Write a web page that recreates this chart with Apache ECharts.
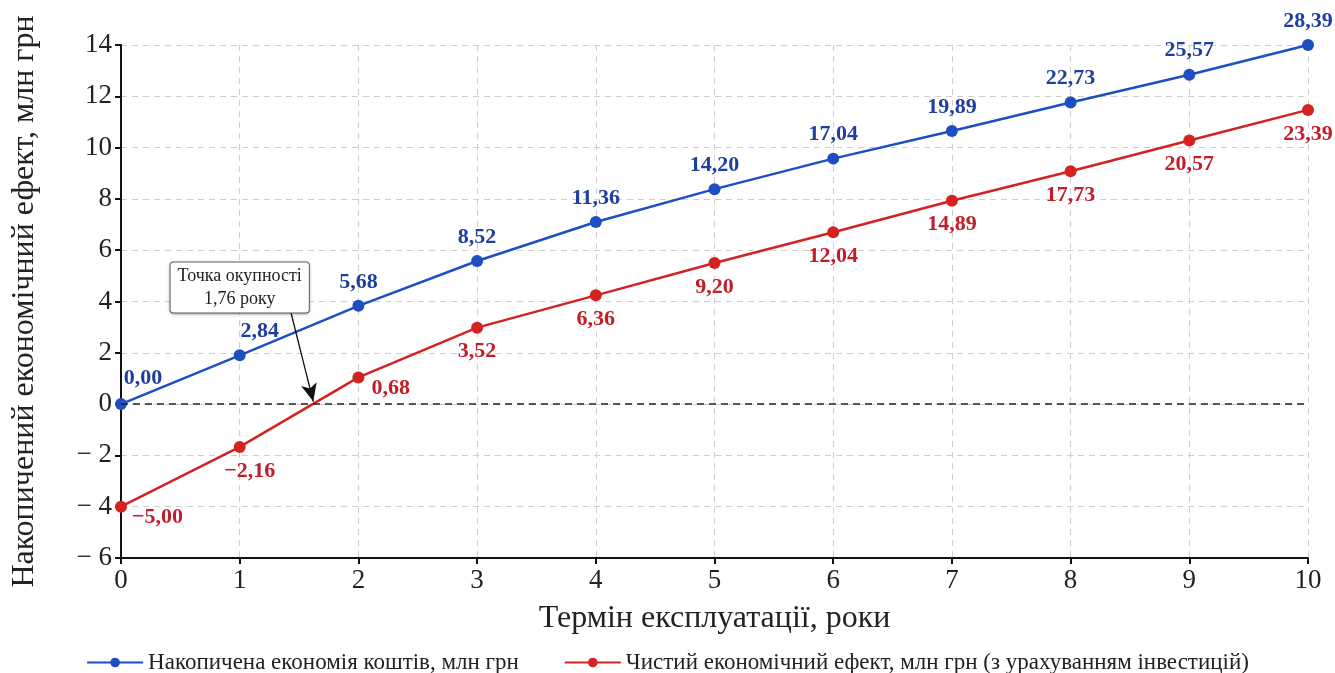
<!DOCTYPE html>
<html>
<head>
<meta charset="utf-8">
<script src="https://cdn.jsdelivr.net/npm/echarts@6/dist/echarts.min.js"></script>
<style>html,body{margin:0;padding:0;background:#fff}#c{width:1335px;height:673px}</style>
</head>
<body>
<div id="c"></div>
<script>
const years = [0,1,2,3,4,5,6,7,8,9,10];
const savingsPlot = [0, 1.9, 3.83, 5.58, 7.1, 8.38, 9.57, 10.65, 11.76, 12.84, 14.0];
const savingsLabels = ['0,00','2,84','5,68','8,52','11,36','14,20','17,04','19,89','22,73','25,57','28,39'];
const netPlot = [-4.0, -1.67, 1.04, 2.98, 4.24, 5.5, 6.7, 7.93, 9.08, 10.28, 11.47];
const netLabels = ['−5,00','−2,16','0,68','3,52','6,36','9,20','12,04','14,89','17,73','20,57','23,39'];
const seriesNames = ['Накопичена економія коштів, млн грн','Чистий економічний ефект, млн грн (з урахуванням інвестицій)'];
const annotationText = 'Точка окупності\n1,76 року';
const paybackX = 1.62;

const FONT = 'Liberation Serif';
const BLUE = '#1d4fc2', BLUE_T = '#1f3f9f';
const RED = '#d42222', RED_T = '#c21d28';

const blueData = years.map((x,i)=>{
  const d = {value:[x, savingsPlot[i]], label:{formatter: savingsLabels[i]}};
  if (i===0) d.label.offset = [22, -2];
  if (i===1) d.label.offset = [20, 0];
  return d;
});
const redData = years.map((x,i)=>{
  const d = {value:[x, netPlot[i]], label:{formatter: netLabels[i]}};
  if (i===0) { d.label.position = 'right'; d.label.distance = 5; d.label.offset = [0, 11]; }
  if (i===1) d.label.offset = [10, 0];
  if (i===2) { d.label.position = 'right'; d.label.distance = 7; d.label.offset = [0, 11]; }
  return d;
});

const legendText = {fontFamily:FONT, fontSize:23, color:'#222'};

const chart = echarts.init(document.getElementById('c'), null, {renderer:'canvas'});
chart.setOption({
  animation:false,
  backgroundColor:'#fff',
  textStyle:{fontFamily:FONT},
  grid:{left:121, right:27, top:45, bottom:115},
  legend:{
    top:646, left:'center', itemGap:45, itemWidth:56, itemHeight:12,
    textStyle:legendText,
    data:seriesNames.map(n=>({name:n, textStyle:legendText}))
  },
  xAxis:{
    type:'value', min:0, max:10, interval:1,
    name:'Термін експлуатації, роки', nameLocation:'middle', nameGap:45,
    nameTextStyle:{fontFamily:FONT, fontSize:32, color:'#222'},
    axisLine:{onZero:false, lineStyle:{color:'#111', width:2}},
    axisTick:{show:true, length:6, lineStyle:{color:'#111', width:2}},
    axisLabel:{fontFamily:FONT, fontSize:27, color:'#222', margin:9},
    splitLine:{show:true, lineStyle:{color:'#cfcfcf', type:[6,5], width:1}}
  },
  yAxis:{
    type:'value', min:-6, max:14, interval:2,
    name:'Накопичений економічний ефект, млн грн', nameLocation:'middle', nameGap:80,
    nameTextStyle:{fontFamily:FONT, fontSize:32, color:'#222'},
    axisLine:{show:true, onZero:false, lineStyle:{color:'#111', width:2}},
    axisTick:{show:true, length:6, lineStyle:{color:'#111', width:2}},
    axisLabel:{fontFamily:FONT, fontSize:27, color:'#222', margin:9,
      formatter:v => v<0 ? '− ' + Math.abs(v) : String(v)},
    splitLine:{show:true, lineStyle:{color:'#cfcfcf', type:[6,5], width:1}}
  },
  series:[
    {
      name:seriesNames[0], type:'line', data:blueData,
      symbol:'circle', symbolSize:12,
      lineStyle:{color:BLUE, width:2.5}, itemStyle:{color:BLUE},
      label:{show:true, position:'top', distance:7, fontFamily:FONT, fontSize:22, fontWeight:'bold', color:BLUE_T},
      z:3
    },
    {
      name:seriesNames[1], type:'line', data:redData,
      symbol:'circle', symbolSize:12,
      lineStyle:{color:RED, width:2.5}, itemStyle:{color:RED},
      label:{show:true, position:'bottom', distance:7, fontFamily:FONT, fontSize:22, fontWeight:'bold', color:RED_T},
      z:3,
      markLine:{
        silent:true, animation:false,
        data:[
          [{coord:[0,0], symbol:'none', lineStyle:{color:'#222', type:[7,5], width:1.6}},
           {coord:[10,0], symbol:'none'}],
          [{coord:[1.43,3.6], symbol:'none', lineStyle:{color:'#111', type:'solid', width:1.3}},
           {coord:[paybackX,0.1], symbol:'arrow', symbolSize:[12,18]}]
        ],
        label:{show:false}
      },
      markPoint:{
        silent:true, animation:false,
        symbol:'rect', symbolSize:1, itemStyle:{color:'rgba(0,0,0,0)'},
        data:[{coord:[1.0,4.55]}],
        label:{
          show:true, position:'inside', formatter:annotationText,
          fontFamily:FONT, fontSize:18, color:'#222', lineHeight:23, align:'center',
          backgroundColor:'#fff', borderColor:'#666', borderWidth:1, borderRadius:3,
          padding:[2,7], shadowColor:'rgba(0,0,0,0.25)', shadowBlur:3, shadowOffsetY:1
        }
      }
    }
  ]
});
</script>
</body>
</html>
